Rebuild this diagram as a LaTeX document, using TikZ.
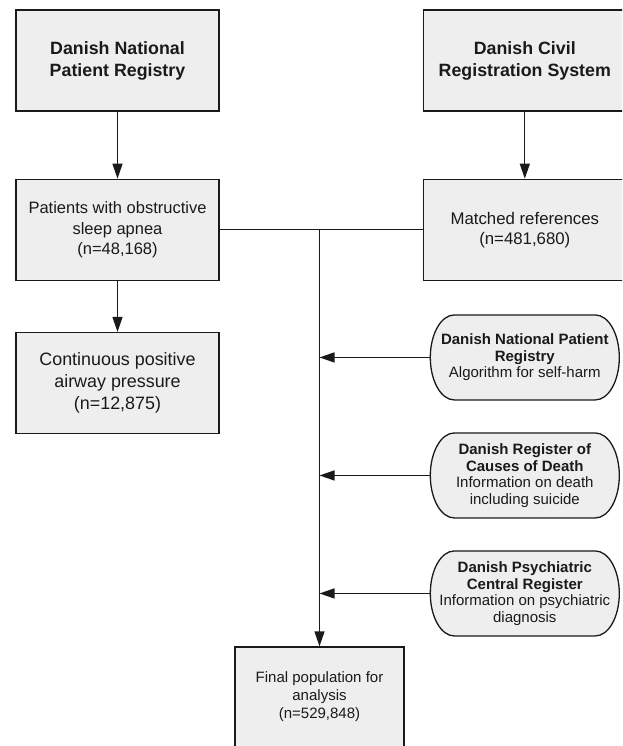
\documentclass[tikz,border=0pt]{standalone}
\usepackage{fontspec}
\setmainfont{Liberation Sans}
\usepackage{tikz}
\usetikzlibrary{positioning, arrows.meta, backgrounds}
\definecolor{boxfill}{HTML}{EEEEEE}
\definecolor{ink}{HTML}{1A1A1A}

\begin{document}
\begin{tikzpicture}[
        x=1pt, y=-1pt,
        node distance=33pt,
        box/.style={rectangle, draw=ink, fill=boxfill, line width=1.3pt, minimum width=203pt, minimum height=101pt, inner sep=2pt, align=center, text=ink},
        regbox/.style={rectangle, outer sep=0pt, minimum width=189pt, minimum height=85pt, inner sep=1pt, align=center, text=ink, font=\fontsize{15}{16.5}\selectfont},
        regline/.style={draw=ink, fill=boxfill, line width=1.3pt},
        arrow/.style={-{Triangle[length=15pt, width=10pt]}, line width=1.3pt, draw=ink},
        link/.style={line width=1.3pt, draw=ink},
    ]
        \path[use as bounding box, clip] (0,0) rectangle (622,746);

        % Source registries
        \node[box, font=\fontsize{17.8}{22}\selectfont\bfseries] (dnpr) at (117.5,60.5) {Danish National\\Patient Registry};
        \node[box, font=\fontsize{17.8}{22}\selectfont\bfseries, right=203pt of dnpr] (dcrs) {Danish Civil\\Registration System};

        % Cohorts
        \node[box, font=\fontsize{16.5}{20.5}\selectfont, below=67pt of dnpr] (osa) {Patients with obstructive\\sleep apnea\\(n=48,168)};
        \node[box, font=\fontsize{16.8}{20}\selectfont, below=67pt of dcrs] (refs) {Matched references\\(n=481,680)};
        \node[box, font=\fontsize{17.9}{22}\selectfont, below=51pt of osa] (cpap) {Continuous positive\\airway pressure\\(n=12,875)};

        % Outcome registries
        \node[regbox, below=34pt of refs] (selfharm) {\textbf{Danish National Patient}\\\textbf{Registry}\\Algorithm for self-harm};
        \node[regbox, below=of selfharm] (death) {\textbf{Danish Register of}\\\textbf{Causes of Death}\\Information on death\\including suicide};
        \node[regbox, below=of death] (psych) {\textbf{Danish Psychiatric}\\\textbf{Central Register}\\Information on psychiatric\\diagnosis};

        % Outline with elliptic ends
        \begin{scope}[on background layer]
            \foreach \n in {selfharm, death, psych}
                \draw[regline] ([xshift=24pt]\n.north west) -- ([xshift=-24pt]\n.north east)
                    arc[start angle=90, end angle=-90, x radius=24pt, y radius=42.5pt]
                    -- ([xshift=24pt]\n.south west)
                    arc[start angle=270, end angle=90, x radius=24pt, y radius=42.5pt] -- cycle;
        \end{scope}

        % Final cohort
        \node[box, minimum width=169pt, minimum height=100pt, font=\fontsize{15}{18}\selectfont] (final) at (319.5,697) {Final population for\\analysis\\(n=529,848)};

        % Connectors
        \coordinate (split) at (osa.east -| final.north);
        \draw[arrow] (dnpr) -- (osa);
        \draw[arrow] (dcrs) -- (refs);
        \draw[arrow] (osa) -- (cpap);
        \draw[link] (osa.east) -- (refs.west);
        \draw[arrow] (split) -- (final);
        \foreach \src in {selfharm, death, psych}
            \draw[arrow] (\src) -- (\src -| split);
    \end{tikzpicture}
\end{document}
